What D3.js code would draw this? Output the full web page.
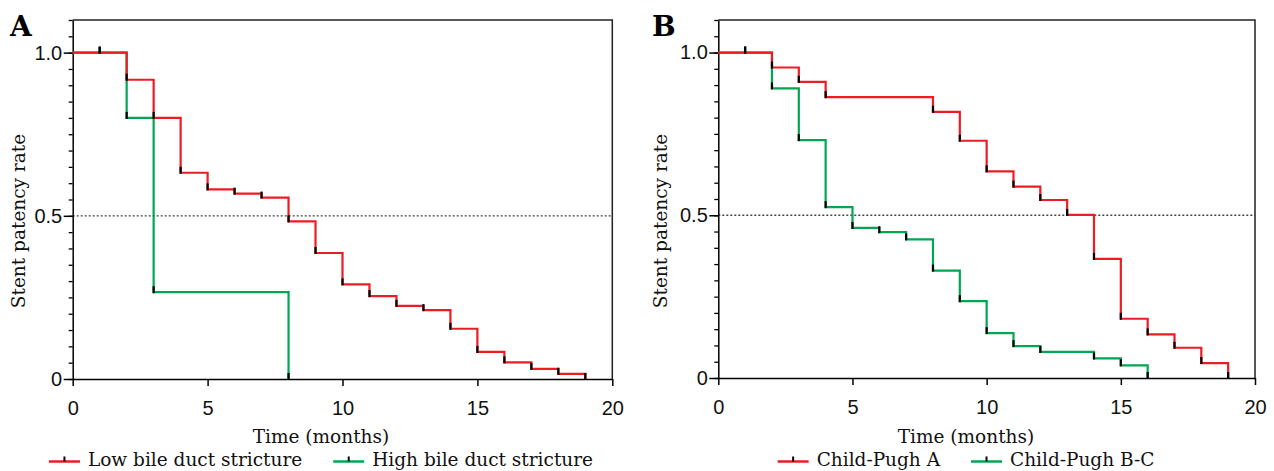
<!DOCTYPE html>
<html>
<head>
<meta charset="utf-8">
<script src="https://cdn.jsdelivr.net/npm/d3@7"></script>
<style>
  body { margin: 0; background: #fff; }
  svg { display: block; font-family: "DejaVu Serif", "Liberation Serif", serif; }
</style>
</head>
<body>
<div id="chart"></div>
<script>
// panel A: bile duct stricture
const lowMonths = [0, 1, 2, 3, 4, 5, 6, 7, 8, 9, 10, 11, 12, 13, 14, 15, 16, 17, 18, 19];
const lowSurv = [1.0, 1.0, 0.917, 0.80, 0.632, 0.581, 0.568, 0.556, 0.483, 0.386, 0.290, 0.254, 0.224, 0.211, 0.154, 0.083, 0.051, 0.031, 0.016, 0];
const highMonths = [0, 1, 2, 3, 8];
const highSurv = [1.0, 1.0, 0.80, 0.266, 0];

// panel B: Child-Pugh class
const cpaMonths = [0, 1, 2, 3, 4, 8, 9, 10, 11, 12, 13, 14, 15, 16, 17, 18, 19];
const cpaSurv = [1.0, 1.0, 0.954, 0.910, 0.863, 0.818, 0.729, 0.635, 0.588, 0.547, 0.501, 0.366, 0.182, 0.134, 0.093, 0.046, 0];
const cpbMonths = [0, 1, 2, 3, 4, 5, 6, 7, 8, 9, 10, 11, 12, 14, 15, 16];
const cpbSurv = [1.0, 1.0, 0.890, 0.731, 0.525, 0.461, 0.448, 0.426, 0.330, 0.236, 0.138, 0.098, 0.080, 0.060, 0.039, 0];

const xTicks = [0, 5, 10, 15, 20];
const yMajor = [0, 0.5, 1.0];
const yMajorLabels = ["0", "0.5", "1.0"];

const RED = "#ed1c24", GREEN = "#00a651";

const width = 1274, height = 471;
const svg = d3.select("#chart").append("svg")
    .attr("width", width)
    .attr("height", height);

const panels = [
    {
        letter: "A", left: 72.7, right: 612.3, top: 20, bottom: 379, letterX: 10, ylabX: 25, textCx: 321,
        series: [
            { name: "Low bile duct stricture", months: lowMonths, surv: lowSurv, color: RED },
            { name: "High bile duct stricture", months: highMonths, surv: highSurv, color: GREEN }
        ]
    },
    {
        letter: "B", left: 718.3, right: 1255, top: 20, bottom: 378, letterX: 652, ylabX: 667, textCx: 966,
        series: [
            { name: "Child-Pugh A", months: cpaMonths, surv: cpaSurv, color: RED },
            { name: "Child-Pugh B-C", months: cpbMonths, surv: cpbSurv, color: GREEN }
        ]
    }
];

panels.forEach(drawPanel);

function drawPanel(p) {
    const x = d3.scaleLinear().domain([0, 20]).range([p.left, p.right]);
    const y = d3.scaleLinear().domain([0, 1.1]).range([p.bottom, p.top]);
    const g = svg.append("g");

    // frame top / right
    g.append("path")
        .attr("d", `M${p.left},${p.top}H${p.right}V${p.bottom}`)
        .attr("fill", "none")
        .attr("stroke", "#222")
        .attr("stroke-width", 1.5);

    // median line
    g.append("line")
        .attr("x1", x(0)).attr("x2", x(20))
        .attr("y1", y(0.5)).attr("y2", y(0.5))
        .attr("stroke", "#444")
        .attr("stroke-width", 1.3)
        .attr("stroke-dasharray", "2,2");

    // minor y ticks
    const minor = d3.range(0, 1.1001, 0.05);
    g.append("g")
        .attr("transform", `translate(${p.left},0)`)
        .call(d3.axisLeft(y).tickValues(minor).tickSize(4).tickFormat(""))
        .call(s => s.select(".domain").remove())
        .selectAll("line").attr("stroke-width", 1.3);

    const yAxis = g.append("g")
        .attr("transform", `translate(${p.left},0)`)
        .call(d3.axisLeft(y).tickValues(yMajor).tickSize(9).tickSizeOuter(0).tickPadding(1.5)
            .tickFormat((d, i) => yMajorLabels[i]));
    yAxis.select(".domain").attr("stroke-width", 1.5);
    yAxis.selectAll("line").attr("stroke-width", 1.5);
    yAxis.selectAll("text").attr("font-size", 20).attr("font-family", null).attr("fill", "#111");

    const xAxis = g.append("g")
        .attr("transform", `translate(0,${p.bottom})`)
        .call(d3.axisBottom(x).tickValues(xTicks).tickSize(7).tickSizeOuter(0).tickPadding(15));
    xAxis.select(".domain").attr("stroke-width", 1.5);
    xAxis.selectAll("line").attr("stroke-width", 1.5);
    xAxis.selectAll("text").attr("font-size", 20).attr("font-family", null).attr("fill", "#111");

    // curves, green first so red lies on top
    const line = d3.line()
        .x(d => x(d[0]))
        .y(d => y(d[1]))
        .curve(d3.curveStepAfter);

    const drawOrder = p.series.slice().reverse();
    drawOrder.forEach(s => {
        const pts = s.months.map((m, i) => [m, s.surv[i]]);
        g.append("path")
            .datum(pts)
            .attr("d", line)
            .attr("fill", "none")
            .attr("stroke", s.color)
            .attr("stroke-width", 2.2);
    });
    drawOrder.forEach(s => {
        const pts = s.months.map((m, i) => [m, s.surv[i]]).slice(1);
        g.append("g").selectAll("line")
            .data(pts)
            .join("line")
            .attr("x1", d => x(d[0])).attr("x2", d => x(d[0]))
            .attr("y1", d => y(d[1]) + 1).attr("y2", d => y(d[1]) - 6)
            .attr("stroke", "#000")
            .attr("stroke-width", 2.2);
    });

    // panel letter
    g.append("text")
        .attr("x", p.letterX).attr("y", 36)
        .attr("font-size", 28)
        .attr("font-weight", "bold")
        .text(p.letter);

    // axis titles
    g.append("text")
        .attr("transform", `translate(${p.ylabX},221) rotate(-90)`)
        .attr("text-anchor", "middle")
        .attr("font-size", 18.5)
        .attr("fill", "#111")
        .text("Stent patency rate");

    g.append("text")
        .attr("x", p.textCx).attr("y", 443)
        .attr("text-anchor", "middle")
        .attr("font-size", 18.5)
        .attr("fill", "#111")
        .text("Time (months)");

    // legend, centred under the x title
    const leg = g.append("g");
    const ly = 461.5;
    let cx = 0;
    p.series.forEach((s, i) => {
        if (i > 0) cx += 31;
        leg.append("line")
            .attr("x1", cx).attr("x2", cx + 31)
            .attr("y1", ly).attr("y2", ly)
            .attr("stroke", s.color).attr("stroke-width", 2.5);
        leg.append("line")
            .attr("x1", cx + 15.5).attr("x2", cx + 15.5)
            .attr("y1", ly).attr("y2", ly - 5)
            .attr("stroke", "#000").attr("stroke-width", 2);
        cx += 39;
        const t = leg.append("text")
            .attr("x", cx).attr("y", 466)
            .attr("font-size", 18.5)
            .attr("fill", "#111")
            .text(s.name);
        cx += t.node().getComputedTextLength();
    });
    leg.attr("transform", `translate(${p.textCx - cx / 2},0)`);
}
</script>
</body>
</html>
